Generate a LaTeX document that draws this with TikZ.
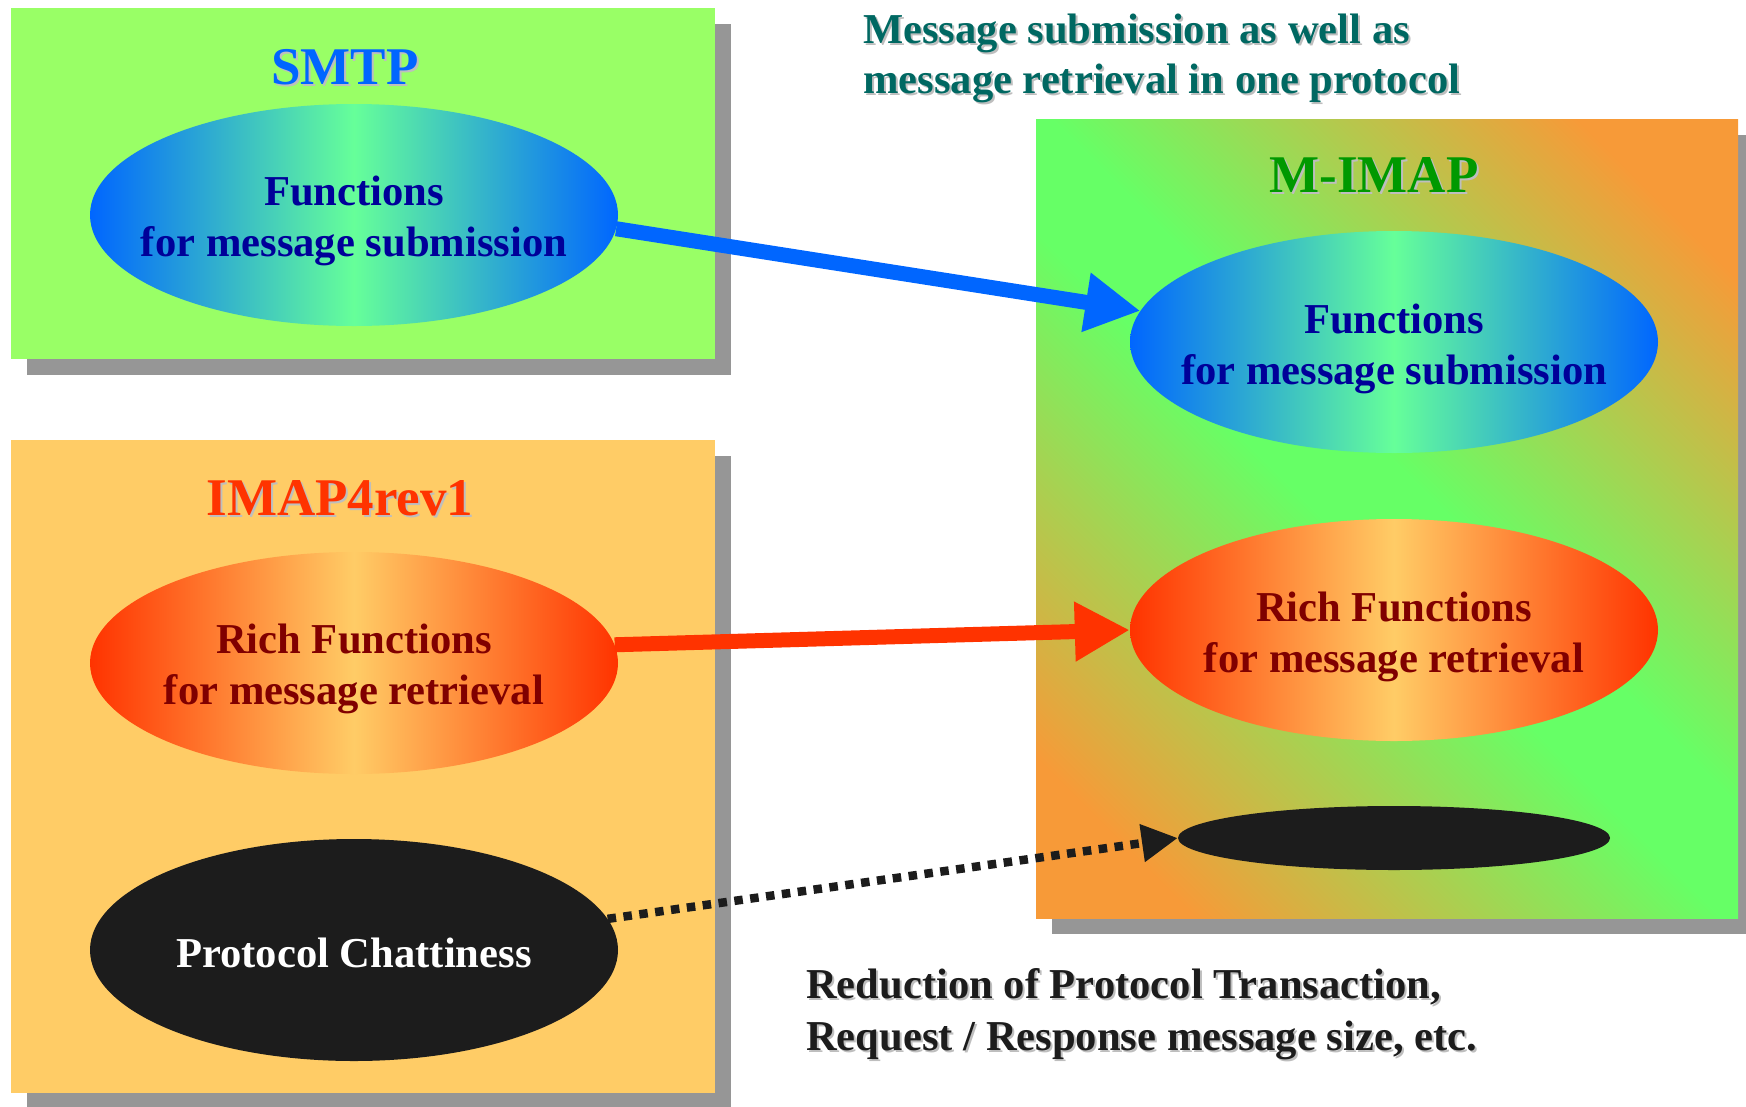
\documentclass[tikz,border=0pt]{standalone}
\usepackage{fontspec}
\setmainfont{Liberation Serif}
\usetikzlibrary{shapes.geometric,arrows.meta}
\definecolor{smtpbg}{RGB}{153,255,102}
\definecolor{imapbg}{RGB}{255,204,102}
\definecolor{shadowgray}{RGB}{150,150,150}
\definecolor{blueedge}{RGB}{0,102,255}
\definecolor{mint}{RGB}{102,255,153}
\definecolor{rededge}{RGB}{255,51,0}
\definecolor{paleorange}{RGB}{255,204,102}
\definecolor{navytext}{RGB}{0,0,153}
\definecolor{maroontext}{RGB}{128,0,0}
\definecolor{nearblack}{RGB}{28,28,28}
\definecolor{mimapgreen}{RGB}{102,255,102}
\definecolor{mimaporange}{RGB}{247,154,56}
\definecolor{topteal}{RGB}{0,104,98}
\definecolor{titlegreen}{RGB}{0,153,0}
\definecolor{textshade}{RGB}{190,190,190}
\pgfdeclareverticalshading{mimapshade}{100bp}{color(0bp)=(mimaporange); color(22bp)=(mimaporange); color(47bp)=(mimapgreen); color(53bp)=(mimapgreen); color(78bp)=(mimaporange); color(100bp)=(mimaporange)}
\tikzset{
  ell/.style={ellipse, minimum width=528pt, minimum height=222pt, inner sep=0pt, draw=none},
  blueell/.style={ell, left color=blueedge, right color=blueedge, middle color=mint},
  redell/.style={ell, left color=rededge, right color=rededge, middle color=paleorange},
  blackell/.style={ell, fill=nearblack},
  etext/.style={font=\fontsize{42.6}{51}\selectfont\bfseries, align=center, inner sep=0pt},
  titletext/.style={font=\fontsize{53}{60}\selectfont\bfseries, inner sep=0pt},
  notetext/.style={font=\fontsize{42.6}{51}\selectfont\bfseries, inner sep=0pt, anchor=base west},
  panelshadow/.style={fill=shadowgray},
  bigarrow/.style={line width=15pt, -{Triangle[length=55pt,width=56pt]}},
  dotarrow/.style={line width=8.5pt, dash pattern=on 8.5pt off 7.5pt, nearblack,
     -{Triangle[length=36pt,width=36pt]}},
}
\begin{document}
\begin{tikzpicture}[x=1pt,y=-1pt]
\useasboundingbox (0,0) rectangle (1746,1106);
% panels with shadows
\fill[panelshadow] (27,24) rectangle (731,375);
\fill[smtpbg] (11,8) rectangle (715,359);
\fill[panelshadow] (27,456) rectangle (731,1112);
\fill[imapbg] (11,440) rectangle (715,1093);
\fill[panelshadow] (1052,135) rectangle (1754,934);
\path[shading=mimapshade, shading angle=-45] (1036,119) rectangle (1738,918);
% ellipses
\node[blueell] (e1) at (354,215) {};
\node[redell] (e2) at (354,663) {};
\node[blackell] (e3) at (354,950) {};
\node[blueell] (e4) at (1394,342) {};
\node[redell] (e5) at (1394,630) {};
\node[ell, fill=nearblack, minimum width=432pt, minimum height=64pt] (e6) at (1394,838) {};
% connectors
\draw[bigarrow, blueedge] (e1.-3) -- (e4.173);
\draw[bigarrow, rededge] (e2.4) -- (e5.west);
\draw[dotarrow] (e3.7) -- (e6.west);
% ellipse texts
\node[etext, navytext] (e1t) at (354,221) {Functions\\for message submission};
\node[etext, maroontext] (e2t) at (354,669) {Rich Functions\\for message retrieval};
\node[etext, white] (e3t) at (354,953) {Protocol Chattiness};
\node[etext, navytext] (e4t) at (1394,349) {Functions\\for message submission};
\node[etext, maroontext] (e5t) at (1394,637) {Rich Functions\\for message retrieval};
% titles
\node[titletext, textshade] (smtpsh) at (347,69) {SMTP};
\node[titletext, blueedge] (smtp) at (345,67) {SMTP};
\node[titletext, textshade] (imapsh) at (342,500) {IMAP4rev1};
\node[titletext, rededge] (imap) at (340,498) {IMAP4rev1};
\node[titletext, textshade] (mimapsh) at (1376,177) {M-IMAP};
\node[titletext, titlegreen] (mimap) at (1374,175) {M-IMAP};
% notes
\node[notetext, textshade] (n1s) at (865,45) {Message submission as well as};
\node[notetext, topteal] (n1) at (863,43) {Message submission as well as};
\node[notetext, textshade] (n2s) at (865,95) {message retrieval in one protocol};
\node[notetext, topteal] (n2) at (863,93) {message retrieval in one protocol};
\node[notetext, textshade] (n3s) at (808,1000) {Reduction of Protocol Transaction,};
\node[notetext, nearblack] (n3) at (806,998) {Reduction of Protocol Transaction,};
\node[notetext, textshade] (n4s) at (808,1052) {Request / Response message size, etc.};
\node[notetext, nearblack] (n4) at (806,1050) {Request / Response message size, etc.};
\end{tikzpicture}
\end{document}
